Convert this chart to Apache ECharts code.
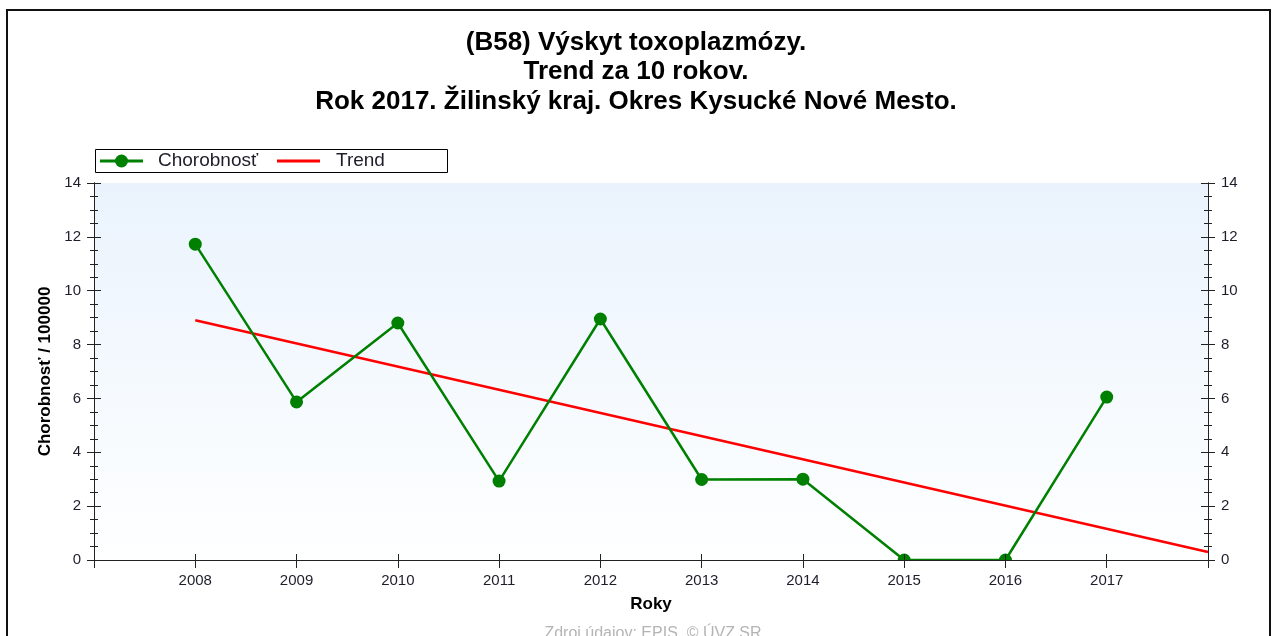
<!DOCTYPE html>
<html>
<head>
<meta charset="utf-8">
<title>Výskyt toxoplazmózy</title>
<script src="https://cdn.jsdelivr.net/npm/echarts@6/dist/echarts.min.js"></script>
<style>
  html, body { margin: 0; padding: 0; background: #fff; }
  #chart { width: 1272px; height: 636px; }
</style>
</head>
<body>
<div id="chart"></div>
<script>
// Incidence of toxoplasmosis per 100 000 inhabitants, 2008–2017
const years = [2008, 2009, 2010, 2011, 2012, 2013, 2014, 2015, 2016, 2017];
const incidence = [11.73, 5.87, 8.80, 2.93, 8.95, 2.99, 3.00, 0, 0, 6.05];

// Linear trend line end points
const trendYears = [2008, 2018];
const trendValues = [8.90, 0.30];

// Value axis ticks
const yTicks = [0, 2, 4, 6, 8, 10, 12, 14];

const titleLines = [
  '(B58) Výskyt toxoplazmózy.',
  'Trend za 10 rokov.',
  'Rok 2017. Žilinský kraj. Okres Kysucké Nové Mesto.'
];
const seriesNames = ['Chorobnosť', 'Trend'];
const yName = 'Chorobnosť / 100000';
const xName = 'Roky';
const sourceText = 'Zdroj údajov: EPIS, © ÚVZ SR';

const FONT = 'Arial, "Liberation Sans", sans-serif';
const GREEN = '#008000';
const RED = '#ff0000';
const AXIS = '#222222';
const TEXT = '#1e1e2a';

const xMin = years[0] - 1;
const xMax = years[years.length - 1] + 1;
const yMin = yTicks[0];
const yMax = yTicks[yTicks.length - 1];
const yStep = yTicks[1] - yTicks[0];

const chart = echarts.init(document.getElementById('chart'), null, { renderer: 'canvas' });

const yearLabel = v => (years.indexOf(v) >= 0 ? String(v) : '');

function xAxisBase(extra) {
  return Object.assign({
    type: 'value', min: xMin, max: xMax, interval: 1, gridIndex: 0,
    splitLine: { show: false },
    axisLine: { show: true, lineStyle: { color: AXIS, width: 1 } },
    z: 6
  }, extra);
}
function yAxisBase(extra) {
  return Object.assign({
    type: 'value', min: yMin, max: yMax, interval: yStep, gridIndex: 0,
    splitLine: { show: false },
    axisLine: { show: true, lineStyle: { color: AXIS, width: 1 } },
    z: 6
  }, extra);
}

const option = {
  animation: false,
  backgroundColor: '#ffffff',
  title: {
    text: titleLines.join('\n'),
    left: 'center',
    top: 28,
    padding: 0,
    textStyle: { fontFamily: FONT, fontSize: 26, fontWeight: 'bold', color: '#000', lineHeight: 29.5 }
  },
  grid: {
    left: 94, right: 64, top: 183, bottom: 76,
    show: true,
    borderWidth: 0,
    backgroundColor: {
      type: 'linear', x: 0, y: 0, x2: 0, y2: 1,
      colorStops: [{ offset: 0, color: '#eaf3fd' }, { offset: 1, color: '#feffff' }]
    }
  },
  xAxis: [
    xAxisBase({
      position: 'bottom',
      name: xName, nameLocation: 'middle', nameGap: 36,
      nameTextStyle: { fontFamily: FONT, fontSize: 17, fontWeight: 'bold', color: '#000' },
      axisTick: { show: true, inside: false, length: 6, lineStyle: { color: AXIS } },
      axisLabel: { show: true, margin: 13, formatter: yearLabel, fontFamily: FONT, fontSize: 15, color: TEXT, showMinLabel: true, showMaxLabel: true }
    }),
    xAxisBase({
      position: 'bottom',
      axisTick: { show: true, inside: true, length: 6, lineStyle: { color: AXIS } },
      axisLabel: { show: false }
    }),
    xAxisBase({
      position: 'top',
      axisTick: { show: true, inside: true, length: 8, lineStyle: { color: AXIS } },
      axisLabel: { show: false }
    })
  ],
  yAxis: [
    yAxisBase({
      position: 'left',
      name: yName, nameLocation: 'middle', nameGap: 40,
      nameTextStyle: { fontFamily: FONT, fontSize: 17, fontWeight: 'bold', color: '#000' },
      axisTick: { show: true, inside: false, length: 7, lineStyle: { color: AXIS } },
      minorTick: { show: true, splitNumber: 4, length: 4, lineStyle: { color: AXIS } },
      axisLabel: { show: true, margin: 13, fontFamily: FONT, fontSize: 15, color: TEXT }
    }),
    yAxisBase({
      position: 'left',
      axisTick: { show: true, inside: true, length: 7, lineStyle: { color: AXIS } },
      minorTick: { show: true, splitNumber: 4, length: 4, lineStyle: { color: AXIS } },
      axisLabel: { show: false }
    }),
    yAxisBase({
      position: 'right',
      axisTick: { show: true, inside: false, length: 7, lineStyle: { color: AXIS } },
      minorTick: { show: true, splitNumber: 4, length: 4, lineStyle: { color: AXIS } },
      axisLabel: { show: true, margin: 13, fontFamily: FONT, fontSize: 15, color: TEXT }
    }),
    yAxisBase({
      position: 'right',
      axisTick: { show: true, inside: true, length: 7, lineStyle: { color: AXIS } },
      minorTick: { show: true, splitNumber: 4, length: 4, lineStyle: { color: AXIS } },
      axisLabel: { show: false }
    })
  ],
  series: [
    {
      name: seriesNames[0],
      type: 'line',
      xAxisIndex: 0, yAxisIndex: 0,
      data: years.map((y, i) => [y, incidence[i]]),
      symbol: 'circle', symbolSize: 13,
      lineStyle: { color: GREEN, width: 2.5 },
      itemStyle: { color: GREEN },
      z: 3
    },
    {
      name: seriesNames[1],
      type: 'line',
      xAxisIndex: 0, yAxisIndex: 0,
      data: trendYears.map((y, i) => [y, trendValues[i]]),
      symbol: 'none',
      lineStyle: { color: RED, width: 2.5 },
      z: 2
    }
  ],
  graphic: [
    // outer frame
    { type: 'rect', z: 10, silent: true,
      shape: { x: 7, y: 10, width: 1263, height: 700 },
      style: { fill: null, stroke: '#111', lineWidth: 2 } },
    // hides the part of markers below the zero line
    { type: 'rect', z: 4, silent: true,
      shape: { x: 94, y: 561, width: 1114, height: 10 },
      style: { fill: '#ffffff' } },
    // legend box
    { type: 'rect', z: 10, silent: true,
      shape: { x: 95.5, y: 149.5, width: 352, height: 23 },
      style: { fill: '#ffffff', stroke: '#000', lineWidth: 1 } },
    { type: 'line', z: 11, silent: true,
      shape: { x1: 100, y1: 161, x2: 143, y2: 161 },
      style: { stroke: GREEN, lineWidth: 3 } },
    { type: 'circle', z: 12, silent: true,
      shape: { cx: 121.5, cy: 161, r: 6.5 },
      style: { fill: GREEN } },
    { type: 'text', z: 11, silent: true,
      style: { x: 158, y: 161, text: seriesNames[0], fill: TEXT, font: '19px ' + FONT, verticalAlign: 'middle', align: 'left' } },
    { type: 'line', z: 11, silent: true,
      shape: { x1: 277, y1: 161, x2: 320, y2: 161 },
      style: { stroke: RED, lineWidth: 3 } },
    { type: 'text', z: 11, silent: true,
      style: { x: 336, y: 161, text: seriesNames[1], fill: TEXT, font: '19px ' + FONT, verticalAlign: 'middle', align: 'left' } },
    // data source note
    { type: 'text', z: 11, silent: true,
      style: { x: 653, y: 634, text: sourceText, fill: '#b4b4b4', font: '16px ' + FONT, verticalAlign: 'middle', align: 'center' } }
  ]
};

chart.setOption(option);
</script>
</body>
</html>
